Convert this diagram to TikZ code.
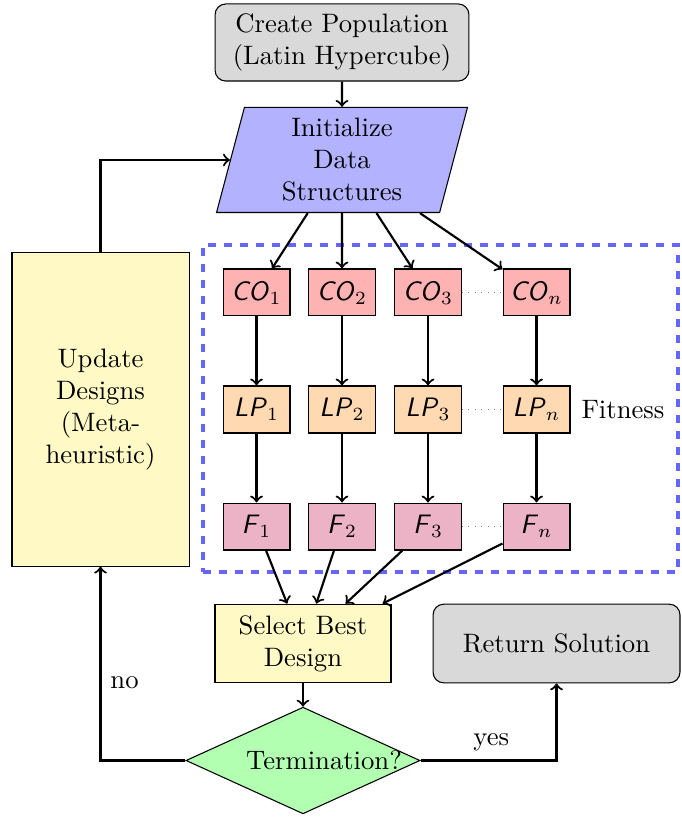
\documentclass[tikz,border=0pt]{standalone}
\usetikzlibrary{shapes.geometric}
\newcommand\varname[1]{\textsf{\itshape #1}}
\definecolor{paleyellow}{RGB}{255,250,197}
\begin{document}
\begin{tikzpicture}[x=0.375pt,y=-0.375pt,
  base/.style={draw, align=center, inner sep=1pt},
  startstop/.style={base, rectangle, rounded corners=4pt, fill=gray!30},
  process/.style={base, rectangle, fill=paleyellow},
  iobox/.style={base, trapezium, trapezium left angle=72.5, trapezium right angle=107.5,
    trapezium stretches body, fill=blue!30, minimum width=94.1pt, minimum height=39.4pt},
  cell/.style={base, rectangle, minimum width=25.1pt, minimum height=17.6pt},
  cobox/.style={cell, fill=red!30},
  lpbox/.style={cell, fill=orange!30},
  fbox/.style={cell, fill=purple!30},
  decision/.style={draw, diamond, inner sep=0pt, fill=green!30, minimum width=87.8pt, minimum height=40pt},
  arr/.style={thick, ->},
  gap/.style={dotted, gray},
]
\useasboundingbox (0,0) rectangle (681,818);

% main flow
\node[startstop, minimum width=95.2pt, minimum height=28.9pt] (create) at (342,42.5)
  {Create Population\\(Latin Hypercube)};
\node[iobox] (init) at (342,160) {Initialize\\Data\\Structures};

% parallel fitness evaluation
\node[draw=blue!60, very thick, dashed, minimum width=178.1pt, minimum height=122.6pt] (group) at (440.5,408.5) {};
\foreach \i/\x in {1/256.5, 2/342, 3/428} {
  \node[cobox] (co\i) at (\x,292.5) {\varname{CO}$_\i$};
  \node[lpbox] (lp\i) at (\x,409.5) {\varname{LP}$_\i$};
  \node[fbox]  (f\i)  at (\x,526.5) {\varname{F}$_\i$};
}
\node[cobox] (con) at (536.5,292.5) {\varname{CO}$_n$};
\node[lpbox] (lpn) at (536.5,409.5) {\varname{LP}$_n$};
\node[fbox]  (fn)  at (536.5,526.5) {\varname{F}$_n$};
\node (fitness) at (623,410) {Fitness};

\node[process, minimum width=66pt, minimum height=29.5pt] (select) at (303,643.5) {Select Best\\Design};
\node[decision] (term) at (303,760.5) {\makebox[0pt]{\hspace*{15.8pt}Termination?}};
\node[startstop, minimum width=92.6pt, minimum height=29.5pt] (return) at (556.5,643.5) {Return Solution};
\node[process, minimum width=66.4pt, minimum height=117.4pt] (update) at (100.5,409.5)
  {Update\\Designs\\(Meta-\\heuristic)};

% connectors
\draw[arr] (create) -- (init);
\foreach \c in {co1, co2, co3, con} \draw[arr] (init) -- (\c);
\foreach \i in {1,2,3,n} {
  \draw[arr] (co\i) -- (lp\i);
  \draw[arr] (lp\i) -- (f\i);
  \draw[arr] (f\i) -- (select);
}
\draw[gap] (co3) -- (con);
\draw[gap] (lp3) -- (lpn);
\draw[gap] (f3) -- (fn);
\draw[arr] (select) -- (term);
\draw[arr] (term.west) -| node[pos=0.7, right] {no} (update.south);
\draw[arr] (term.east) -| node[pos=0.26, above] {yes} (return.south);
\draw[arr] (update.north) |- (init);
\end{tikzpicture}
\end{document}
